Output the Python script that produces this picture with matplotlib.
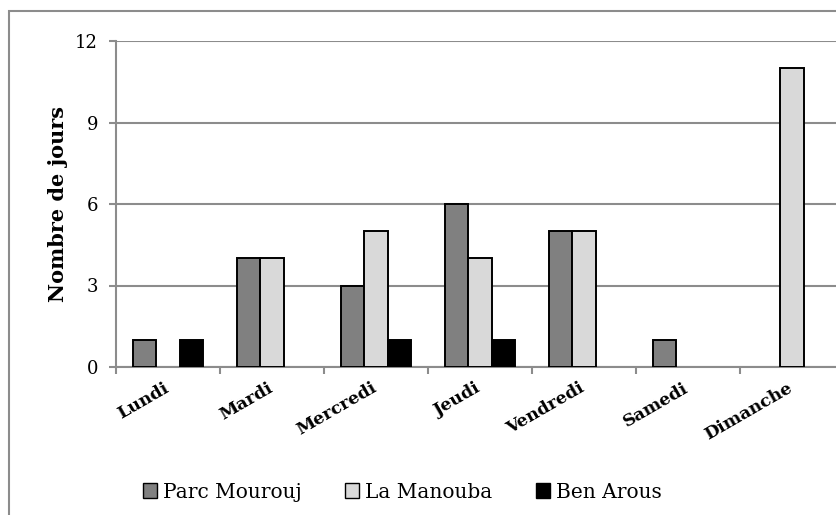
import matplotlib
matplotlib.use("Agg")
import matplotlib.pyplot as plt
import numpy as np
from matplotlib.patches import Rectangle, Patch
from matplotlib.transforms import ScaledTranslation

days = ["Lundi", "Mardi", "Mercredi", "Jeudi", "Vendredi", "Samedi", "Dimanche"]
parc_mourouj = [1, 4, 3, 6, 5, 1, 0]
la_manouba = [0, 4, 5, 4, 5, 0, 11]
ben_arous = [1, 0, 1, 1, 0, 0, 0]
series_names = ["Parc Mourouj", "La Manouba", "Ben Arous"]
yticks = [0, 3, 6, 9, 12]

plt.rcParams['font.family'] = ['DejaVu Serif']

W, H = 836, 515
fig = plt.figure(figsize=(W / 100, H / 100), dpi=100)

# outer chart border (cropped on right and bottom)
fig.patches.append(Rectangle((9 / W, -0.1), 1.2, 1 - 11 / H + 0.1,
                             transform=fig.transFigure, fill=False,
                             edgecolor="#8c8c8c", linewidth=1.5))

left, right = 116, 844
top, bottom = 41, 367
ax = fig.add_axes([left / W, 1 - bottom / H, (right - left) / W, (bottom - top) / H])

x = np.arange(len(days))
bw = 0.222
colors = ["#808080", "#d9d9d9", "#000000"]
for i, (vals, c, name) in enumerate(zip([parc_mourouj, la_manouba, ben_arous], colors, series_names)):
    vals = np.asarray(vals, dtype=float)
    mask = vals > 0
    ax.bar(x[mask] + (i - 1) * bw, vals[mask], width=bw, color=c, edgecolor="black",
           linewidth=1.4, zorder=3, label=name)

ax.set_xlim(-0.5, len(days) - 0.5)
ax.set_ylim(0, 12)
ax.set_yticks(yticks)
ax.set_yticklabels([str(v) for v in yticks], fontsize=13)
ax.yaxis.grid(True, color="#8c8c8c", linewidth=1.5, zorder=0)
ax.set_axisbelow(True)

ax.set_xticks(np.arange(len(days) + 1) - 0.5, minor=False)
ax.set_xticklabels([])
ax.set_xticks(x, minor=True)
ax.set_xticklabels(days, minor=True, rotation=30, fontsize=12.5, fontweight="bold",
                   ha="right", rotation_mode="anchor")
ax.tick_params(axis="x", which="minor", length=0, pad=9)
ax.tick_params(axis="x", which="major", length=5, width=1.5, color="#8c8c8c")
ax.tick_params(axis="y", length=5, width=1.5, color="#8c8c8c", pad=8)
for lbl in ax.get_xticklabels(minor=True):
    lbl.set_transform(lbl.get_transform() + ScaledTranslation(-0.05, 0, fig.dpi_scale_trans))

for s in ["top", "right"]:
    ax.spines[s].set_visible(False)
for s in ["left", "bottom"]:
    ax.spines[s].set_color("#8c8c8c")
    ax.spines[s].set_linewidth(1.5)

ax.set_ylabel("Nombre de jours", fontsize=15, fontweight="bold", labelpad=5)

handles = [Patch(facecolor=c, edgecolor="black", linewidth=1) for c in colors]
fig.legend(handles, series_names, loc="center left", bbox_to_anchor=(143 / W, 1 - 492 / H),
           ncol=3, frameon=False, fontsize=14.5, handlelength=0.7, handleheight=0.7,
           handletextpad=0.3, columnspacing=2.15, borderaxespad=0, borderpad=0)

fig.savefig("out.png", dpi=100)
